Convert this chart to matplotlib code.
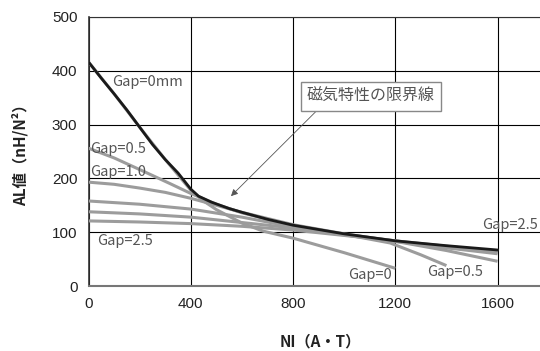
import matplotlib.pyplot as plt

plt.rcParams['font.family'] = ['Noto Sans CJK JP', 'DejaVu Sans']

# Limit line (black)
limit_x = [0, 50, 100, 150, 200, 250, 300, 350, 380, 400, 430, 480, 550, 600, 700, 800, 1000, 1200, 1400, 1600]
limit_y = [416, 386, 357, 327, 295, 263, 235, 210, 192, 180, 167, 156, 144, 137, 124, 113, 97, 84, 75, 67]

# Gap curves (gray)
gap0_x = [0, 100, 200, 300, 400, 450, 500, 600, 683, 800, 1000, 1200]
gap0_y = [416, 357, 295, 235, 178, 158, 142, 117, 102, 89, 62, 33]
gap05_x = [0, 100, 220, 320, 400, 500, 600, 800, 1000, 1180, 1300, 1400]
gap05_y = [256, 238, 212, 190, 172, 152, 136, 112, 96, 80, 58, 38]
gap10_x = [0, 100, 200, 300, 400, 500, 600, 800, 1000, 1200, 1400, 1600]
gap10_y = [193, 189, 182, 174, 163, 150, 137, 114, 97, 83, 66, 46]
gap15_x = [0, 200, 400, 600, 800, 1000, 1200, 1400, 1600]
gap15_y = [158, 152, 143, 128, 110, 96, 84, 71, 60]
gap20_x = [0, 200, 400, 600, 800, 1000, 1200, 1400, 1600]
gap20_y = [138, 134, 128, 118, 108, 95, 83, 72, 62]
gap25_x = [0, 200, 400, 600, 800, 1000, 1200, 1400, 1600]
gap25_y = [121, 119, 116, 111, 104, 94, 84, 74, 64]

x_ticks = [0, 400, 800, 1200, 1600]
y_ticks = [0, 100, 200, 300, 400, 500]

fig = plt.figure(figsize=(5.4, 3.51), dpi=100)
ax = fig.add_axes([0.164, 0.185, 0.836, 0.767])

gray = '#9c9c9c'
for xs, ys in [(gap25_x, gap25_y), (gap20_x, gap20_y), (gap15_x, gap15_y),
               (gap10_x, gap10_y), (gap05_x, gap05_y), (gap0_x, gap0_y)]:
    ax.plot(xs, ys, color=gray, linewidth=2.2, solid_capstyle='butt',
            solid_joinstyle='round', zorder=3)
ax.plot(limit_x, limit_y, color='#1a1a1a', linewidth=2.0,
        solid_joinstyle='round', zorder=4)

ax.set_xlim(0, 1766)
ax.set_ylim(0, 500)
ax.set_xticks(x_ticks)
ax.set_yticks(y_ticks)
ax.tick_params(length=0, pad=8, labelsize=11, labelcolor='#222222')
for lab in ax.get_xticklabels() + ax.get_yticklabels():
    lab.set_family('Liberation Sans')
ax.grid(True, color='black', linewidth=0.8, zorder=1)
ax.spines['right'].set_visible(False)
ax.spines['top'].set_color('#333333')
ax.spines['left'].set_color('#333333')
ax.spines['bottom'].set_color('#777777')
ax.spines['left'].set_linewidth(1.2)
ax.spines['bottom'].set_linewidth(1.5)

lab_kw = dict(fontsize=10.5, color='#555555', va='center', zorder=5)
ax.text(92, 379, 'Gap=0mm', **lab_kw)
ax.text(5, 255, 'Gap=0.5', **lab_kw)
ax.text(5, 211, 'Gap=1.0', **lab_kw)
ax.text(33, 83, 'Gap=2.5', **lab_kw)
ax.text(1015, 20, 'Gap=0', **lab_kw)
ax.text(1325, 26, 'Gap=0.5', **lab_kw)
ax.text(1758, 114, 'Gap=2.5', ha='right', fontsize=10.5, color='#555555',
        va='center', zorder=5)

ax.annotate('磁気特性の限界線', xy=(557, 167), xytext=(1105, 352),
            fontsize=11.5, color='#555555', ha='center', va='center', zorder=6,
            bbox=dict(boxstyle='square,pad=0.35', fc='white', ec='#888888', lw=1),
            arrowprops=dict(arrowstyle='-|>', color='#555555', lw=0.6,
                            mutation_scale=10, relpos=(0.12, 0), shrinkA=0, shrinkB=0))

fig.text(0.037, 0.57, 'AL値（nH/N²）', rotation=90, fontsize=11, fontweight='bold',
         color='#222222', ha='center', va='center')
fig.text(0.593, 0.026, 'NI（A・T）', fontsize=11, fontweight='bold',
         color='#222222', ha='center', va='center')

fig.savefig('out.png', dpi=100)
